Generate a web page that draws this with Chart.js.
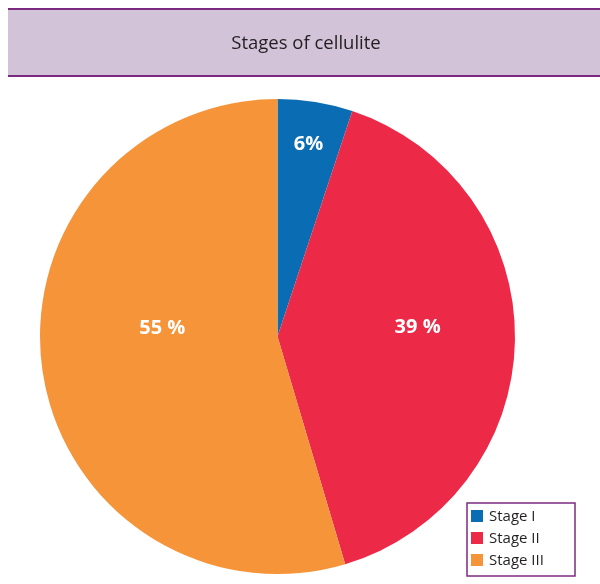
<!DOCTYPE html>
<html>
<head>
<meta charset="utf-8">
<script src="https://cdn.jsdelivr.net/npm/chart.js@4"></script>
<style>
  html, body { margin: 0; padding: 0; background: #fff; }
  #wrap { width: 600px; height: 584px; }
</style>
</head>
<body>
<div id="wrap"><canvas id="chart" width="600" height="584"></canvas></div>
<script>
const chartTitle = 'Stages of cellulite';
const stages = ['Stage I', 'Stage II', 'Stage III'];
const shares = [5.1, 40.3, 54.6];
const shareLabels = ['6%', '39 %', '55 %'];
const stageColors = ['#0a6db4', '#ec2a48', '#f6943a'];

const fontFace = '"Open Sans", "Noto Sans", sans-serif';

// title band, slice labels and boxed legend
const decor = {
    id: 'decor',
    beforeDraw(chart) {
        const ctx = chart.ctx;
        ctx.save();
        ctx.fillStyle = '#d3c3d8';
        ctx.fillRect(8, 9, 592, 68);
        ctx.fillStyle = '#7b2a81';
        ctx.fillRect(8, 8, 592, 2);
        ctx.fillRect(8, 75, 592, 2);
        ctx.fillStyle = '#231f20';
        ctx.font = '18.5px ' + fontFace;
        ctx.textAlign = 'center';
        ctx.textBaseline = 'middle';
        ctx.fillText(chartTitle, 306, 44);
        ctx.restore();
    },
    afterDraw(chart) {
        const ctx = chart.ctx;
        const meta = chart.getDatasetMeta(0);
        const factors = [0.82, 0.59, 0.49];
        const shiftY = [0, -11, -25];
        ctx.save();
        ctx.fillStyle = '#fff';
        ctx.font = 'bold 20px ' + fontFace;
        ctx.textAlign = 'center';
        ctx.textBaseline = 'middle';
        meta.data.forEach((arc, i) => {
            const p = arc.getProps(['x', 'y', 'startAngle', 'endAngle', 'outerRadius'], true);
            const mid = (p.startAngle + p.endAngle) / 2;
            const r = p.outerRadius * factors[i];
            ctx.fillText(shareLabels[i], p.x + Math.cos(mid) * r, p.y + Math.sin(mid) * r + shiftY[i]);
        });

        // legend box
        const bx = 467, by = 503, bw = 108, bh = 73;
        ctx.strokeStyle = '#7b2a81';
        ctx.lineWidth = 1.5;
        ctx.strokeRect(bx, by, bw, bh);
        ctx.font = '15px ' + fontFace;
        ctx.textAlign = 'left';
        stages.forEach((s, i) => {
            const y = by + 13 + i * 22;
            ctx.fillStyle = stageColors[i];
            ctx.fillRect(bx + 4, y - 6, 12, 12);
            ctx.fillStyle = '#231f20';
            ctx.fillText(s, bx + 22, y + 1);
        });
        ctx.restore();
    }
};

new Chart(document.getElementById('chart').getContext('2d'), {
    type: 'pie',
    data: {
        labels: stages,
        datasets: [{
            data: shares,
            backgroundColor: stageColors,
            borderWidth: 0
        }]
    },
    options: {
        responsive: false,
        animation: false,
        layout: {
            padding: { left: 40, right: 85, top: 99, bottom: 10 }
        },
        plugins: {
            legend: { display: false },
            title: { display: false },
            tooltip: { enabled: false }
        }
    },
    plugins: [decor]
});
</script>
</body>
</html>
